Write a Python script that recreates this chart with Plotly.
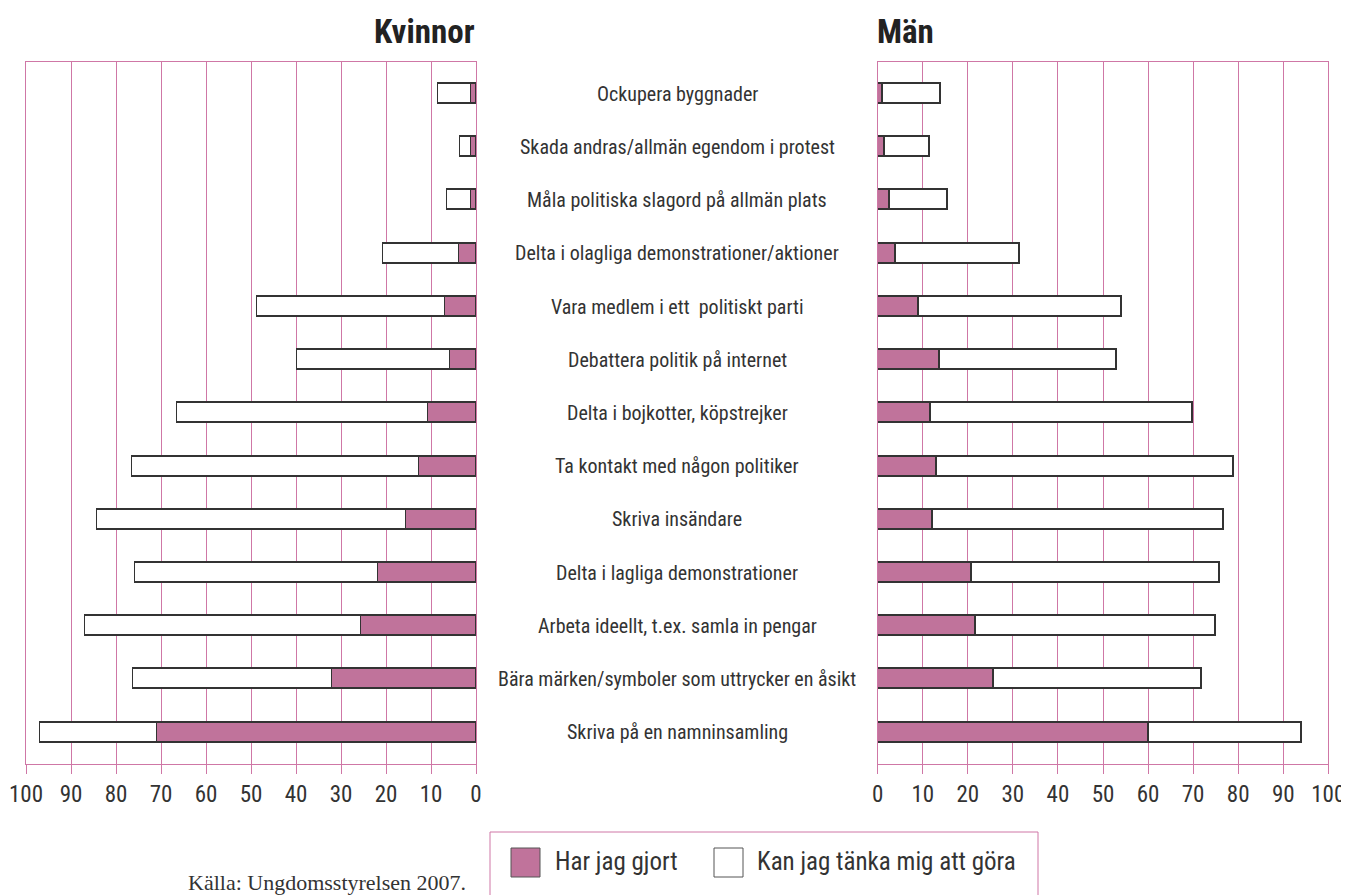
import plotly.graph_objects as go

categories = [
    "Ockupera byggnader",
    "Skada andras/allmän egendom i protest",
    "Måla politiska slagord på allmän plats",
    "Delta i olagliga demonstrationer/aktioner",
    "Vara medlem i ett  politiskt parti",
    "Debattera politik på internet",
    "Delta i bojkotter, köpstrejker",
    "Ta kontakt med någon politiker",
    "Skriva insändare",
    "Delta i lagliga demonstrationer",
    "Arbeta ideellt, t.ex. samla in pengar",
    "Bära märken/symboler som uttrycker en åsikt",
    "Skriva på en namninsamling",
]

# Kvinnor
kvinnor_gjort = [1.2, 1.1, 1.1, 3.8, 6.9, 5.8, 10.7, 12.7, 15.6, 21.8, 25.6, 31.9, 70.9]
kvinnor_total = [8.4, 3.6, 6.4, 20.7, 48.7, 39.8, 66.4, 76.4, 84.2, 75.8, 86.8, 76.2, 96.8]
# Män
man_gjort = [1.0, 1.6, 2.7, 4.1, 9.2, 13.8, 11.8, 13.2, 12.1, 20.8, 21.7, 25.7, 60.1]
man_total = [14.0, 11.6, 15.6, 31.6, 54.2, 53.1, 70.0, 79.0, 76.8, 76.0, 75.0, 71.8, 94.1]

tick_vals = [0, 10, 20, 30, 40, 50, 60, 70, 80, 90, 100]
tick_text = [str(v) for v in tick_vals]

legend_labels = ["Har jag gjort", "Kan jag tänka mig att göra"]
titles = ["Kvinnor", "Män"]
source = "Källa: Ungdomsstyrelsen 2007."

PINK = "#c0739b"
GRID = "#cf77a6"
EDGE = "#333333"
FONT = "Roboto Condensed, Liberation Sans Narrow, Roboto, sans-serif"
SERIF = "Liberation Serif, DejaVu Serif, serif"

# page offset (browser body margin) compensation
OFF = 8
W, H = 1349, 895


def px(x):
    return (x - OFF) / W


def py(y):
    return 1 - (y - OFF) / H


kvinnor_kan = [t - g for t, g in zip(kvinnor_total, kvinnor_gjort)]
man_kan = [t - g for t, g in zip(man_total, man_gjort)]
ypos = list(range(len(categories)))

fig = go.Figure()
bw = 0.375
for xs, ax, ay in [((kvinnor_gjort, kvinnor_kan), "x", "y"), ((man_gjort, man_kan), "x2", "y2")]:
    fig.add_bar(x=xs[0], y=ypos, orientation="h", xaxis=ax, yaxis=ay,
                marker=dict(color=PINK, line=dict(color=EDGE, width=1.5)), width=bw,
                name=legend_labels[0], showlegend=False)
    fig.add_bar(x=xs[1], y=ypos, orientation="h", xaxis=ax, yaxis=ay,
                marker=dict(color="white", line=dict(color=EDGE, width=1.5)), width=bw,
                name=legend_labels[1], showlegend=False)

ydom = [py(764.3), py(61.7)]
xaxis_common = dict(
    tickvals=tick_vals, ticktext=tick_text, showgrid=True, gridcolor=GRID, gridwidth=1,
    showline=True, linecolor=GRID, linewidth=1, mirror=True,
    ticks="outside", ticklen=9, tickcolor=GRID, tickwidth=1,
    tickfont=dict(family=FONT, size=23, color="#333333"), zeroline=False,
    fixedrange=True, automargin=False,
)
yaxis_common = dict(
    range=[12.6, -0.6], domain=ydom, showticklabels=False, showgrid=False,
    showline=True, linecolor=GRID, linewidth=1, mirror=True, zeroline=False, ticks="",
    automargin=False,
)

fig.update_layout(
    width=W, height=H, margin=dict(l=0, r=0, t=0, b=0, autoexpand=False),
    paper_bgcolor="white", plot_bgcolor="white",
    barmode="stack", bargap=0,
    xaxis=dict(range=[100, 0], domain=[px(26), px(476)], anchor="y", **xaxis_common),
    xaxis2=dict(range=[0, 100], domain=[px(877.7), px(1328.3)], anchor="y2", **xaxis_common),
    yaxis=dict(anchor="x", **yaxis_common),
    yaxis2=dict(anchor="x2", **yaxis_common),
    font=dict(family=FONT, color="#333333"),
)

annotations = []
for i, c in enumerate(categories):
    annotations.append(dict(x=px(677), xref="paper", y=ypos[i], yref="y", text=c,
                            showarrow=False, xanchor="center", yanchor="middle",
                            font=dict(family=FONT, size=20, color="#333333")))
annotations.append(dict(x=px(477), xref="paper", y=py(31), yref="paper", text="<b>" + titles[0] + "</b>",
                        showarrow=False, xanchor="right", yanchor="middle",
                        font=dict(family=FONT, size=33, color="#222222")))
annotations.append(dict(x=px(875), xref="paper", y=py(31), yref="paper", text="<b>" + titles[1] + "</b>",
                        showarrow=False, xanchor="left", yanchor="middle",
                        font=dict(family=FONT, size=33, color="#222222")))
annotations.append(dict(x=px(468), xref="paper", y=py(882), yref="paper", text=source,
                        showarrow=False, xanchor="right", yanchor="middle",
                        font=dict(family=SERIF, size=22, color="#333333")))
# legend
annotations.append(dict(x=px(553), xref="paper", y=py(861), yref="paper", text=legend_labels[0],
                        showarrow=False, xanchor="left", yanchor="middle",
                        font=dict(family=FONT, size=25, color="#333333")))
annotations.append(dict(x=px(755), xref="paper", y=py(861), yref="paper", text=legend_labels[1],
                        showarrow=False, xanchor="left", yanchor="middle",
                        font=dict(family=FONT, size=25, color="#333333")))

shapes = [
    dict(type="rect", xref="paper", yref="paper", x0=px(490), x1=px(1038), y0=-0.05, y1=py(832),
         line=dict(color=GRID, width=1), fillcolor="rgba(0,0,0,0)"),
    dict(type="rect", xref="paper", yref="paper", x0=px(511), x1=px(540), y0=py(877), y1=py(848),
         line=dict(color="#555555", width=1), fillcolor=PINK),
    dict(type="rect", xref="paper", yref="paper", x0=px(714), x1=px(743), y0=py(877), y1=py(848),
         line=dict(color="#555555", width=1), fillcolor="white"),
]
fig.update_layout(annotations=annotations, shapes=shapes)

fig.write_html("out.html")
